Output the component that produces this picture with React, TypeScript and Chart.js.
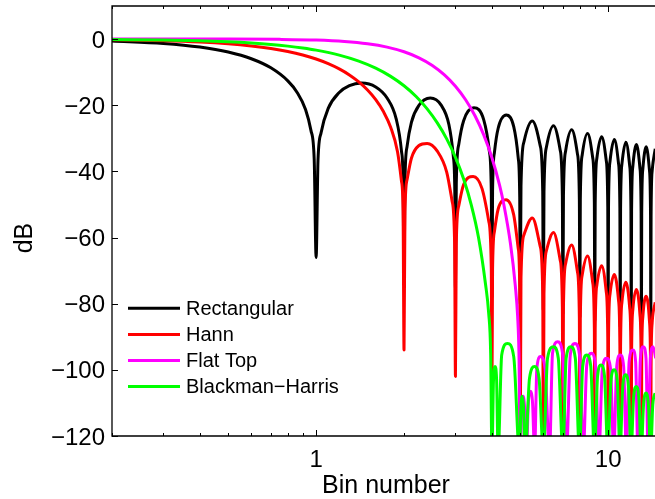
import { useEffect, useRef } from "react";
import { Chart, registerables } from "chart.js";

Chart.register(...registerables);

// Bin positions and levels (dB) for each window's spectrum.
const rectX = [
  0.2, 0.3, 0.4, 0.5, 0.6, 0.7, 0.8, 0.86, 0.92, 0.96, 0.985, 1,
  1.015, 1.04, 1.1, 1.2, 1.3, 1.43, 1.6, 1.75, 1.88, 1.96, 1.985, 2,
  2.015, 2.05, 2.12, 2.25, 2.46, 2.68, 2.85, 2.95, 2.985, 3,
  3.02, 3.08, 3.2, 3.47, 3.75, 3.92, 3.98, 4,
  4.02, 4.08, 4.2, 4.48, 4.75, 4.92, 4.98, 5,
  5.03, 5.15, 5.5, 5.85, 5.97, 6,
  6.03, 6.15, 6.5, 6.85, 6.97, 7,
  7.03, 7.15, 7.5, 7.85, 7.97, 8,
  8.03, 8.15, 8.5, 8.85, 8.97, 9,
  9.03, 9.15, 9.5, 9.85, 9.97, 10,
  10.03, 10.15, 10.5, 10.85, 10.97, 11,
  11.03, 11.15, 11.5, 11.85, 11.97, 12,
  12.03, 12.15, 12.5, 12.85, 12.97, 13,
  13.03, 13.15, 13.5, 13.85, 13.97, 14,
  14.03, 14.15, 14.5,
];
const rectY = [
  -0.58, -1.33, -2.42, -3.92, -5.94, -8.69, -12.62, -16.05, -21.3, -27.6, -36.35, -66,
  -36.6, -28.3, -20.97, -16.15, -14.06, -13.26, -14.46, -17.81, -24.11, -33.83, -42.44, -72,
  -42.57, -32.29, -25.15, -20.0, -17.83, -19.98, -25.9, -35.45, -45.98, -76,
  -43.58, -31.8, -24.67, -20.79, -24.43, -33.9, -45.98, -78,
  -46.07, -34.25, -27.03, -22.99, -26.49, -35.87, -47.93, -80,
  -44.5, -31.04, -24.75, -32.15, -45.99, -82,
  -46.08, -32.58, -26.2, -33.52, -47.34, -83,
  -47.41, -33.89, -27.44, -34.7, -48.5, -84,
  -48.57, -35.03, -28.53, -35.74, -49.53, -85,
  -49.59, -36.03, -29.5, -36.67, -50.45, -86,
  -50.5, -36.93, -30.37, -37.51, -51.28, -87,
  -51.33, -37.75, -31.16, -38.28, -52.04, -88,
  -52.08, -38.49, -31.88, -38.98, -52.73, -88,
  -52.77, -39.18, -32.55, -39.63, -53.38, -89,
  -53.41, -39.82, -33.17,
];

const hannX = [
  0.2, 0.3, 0.4, 0.5, 0.6, 0.7, 0.8, 0.9, 1.0, 1.1, 1.2, 1.3, 1.4, 1.5, 1.6, 1.7, 1.8, 1.9, 1.96, 1.985, 2,
  2.015, 2.05, 2.12, 2.25, 2.4, 2.6, 2.8, 2.92, 2.98, 3,
  3.02, 3.08, 3.2, 3.45, 3.7, 3.9, 3.98, 4,
  4.02, 4.08, 4.2, 4.47, 4.75, 4.92, 4.98, 5,
  5.03, 5.15, 5.5, 5.85, 5.97, 6,
  6.03, 6.15, 6.5, 6.85, 6.97, 7,
  7.03, 7.15, 7.5, 7.85, 7.97, 8,
  8.03, 8.15, 8.5, 8.85, 8.97, 9,
  9.03, 9.15, 9.5, 9.85, 9.97, 10,
  10.03, 10.15, 10.5, 10.85, 10.97, 11,
  11.03, 11.15, 11.5, 11.85, 11.97, 12,
  12.03, 12.15, 12.5, 12.85, 12.97, 13,
  13.03, 13.15, 13.5, 13.85, 13.97, 14,
  14.03, 14.15, 14.5,
];
const hannY = [
  -0.22, -0.51, -0.9, -1.42, -2.07, -2.84, -3.75, -4.8, -6.02, -7.42, -9.01, -10.84, -12.94, -15.4, -18.32, -21.92, -26.67, -34.05, -42.9, -51.8, -94,
  -52.29, -42.4, -36.02, -32.18, -31.54, -33.88, -40.21, -48.87, -61.4, -102,
  -61.77, -50.37, -43.98, -41.56, -45.22, -55.01, -69.41, -108,
  -69.68, -58.14, -51.45, -48.56, -53.16, -63.18, -75.46, -125,
  -72.21, -59.18, -54.07, -62.58, -76.78, -125,
  -77.05, -63.9, -58.51, -66.76, -80.89, -125,
  -81.11, -67.89, -62.29, -70.35, -84.42, -125,
  -84.62, -71.34, -65.59, -73.51, -87.53, -125,
  -87.71, -74.38, -68.51, -76.32, -90.31, -125,
  -90.47, -77.1, -71.14, -78.85, -92.82, -125,
  -92.96, -79.57, -73.52, -81.17, -95.1, -125,
  -95.23, -81.81, -75.7, -83.28, -97.2, -125,
  -97.32, -83.89, -77.72, -85.24, -99.14, -125,
  -99.25, -85.81, -79.58,
];

const flatX = [
  0.2, 0.5, 0.75, 1, 1.25, 1.5, 1.75, 2, 2.25, 2.5, 2.75, 3, 3.25, 3.5, 3.75, 4, 4.25, 4.4, 4.63, 4.81, 4.9, 4.95, 5.0,
  5.06, 5.12, 5.18, 5.25,
  5.33, 5.42, 5.51, 5.6,
  5.7, 5.87, 6.08, 6.3,
  6.45, 6.72, 6.98, 7.2,
  7.42, 7.7, 7.98, 8.22,
  8.45, 8.77, 9.05, 9.3,
  9.55, 9.88, 10.2, 10.45,
  10.7, 11.0, 11.3, 11.55,
  11.8, 12.15, 12.42, 12.65,
  12.9, 13.2, 13.48, 13.7,
  13.95, 14.25, 14.55,
];
const flatY = [
  0, -0.01, -0.09, -0.3, -0.72, -1.41, -2.43, -3.84, -5.67, -7.98, -10.82, -14.25, -18.34, -23.19, -28.96, -35.86, -44.26, -50.3, -61.9, -74.6, -84, -95, -125,
  -112, -108, -112, -125,
  -110, -106.5, -110, -125,
  -99.5, -96, -99.5, -125,
  -95, -91.5, -95, -125,
  -95.5, -92, -95.5, -125,
  -98.5, -95, -98.5, -125,
  -100, -96.5, -100, -125,
  -99, -95.5, -99, -125,
  -97.5, -94, -97.5, -125,
  -96.5, -93, -96.5, -125,
  -96.5, -93, -96.5,
];

const bhX = [
  0.2, 0.3, 0.4, 0.5, 0.6, 0.7, 0.8, 0.9, 1, 1.2, 1.4, 1.6, 1.8, 2, 2.2, 2.4, 2.6, 2.8, 3, 3.2, 3.4, 3.6, 3.8, 3.9, 3.96, 4.0,
  4.05, 4.1, 4.15, 4.2,
  4.32, 4.52, 4.75, 4.97,
  5.03, 5.08, 5.13, 5.2,
  5.38, 5.6, 5.8, 6.0,
  6.2, 6.5, 6.75, 7.0,
  7.18, 7.45, 7.72, 7.98,
  8.18, 8.45, 8.72, 8.98,
  9.2, 9.45, 9.72, 9.98,
  10.22, 10.48, 10.75, 10.98,
  11.22, 11.48, 11.74, 11.98,
  12.22, 12.48, 12.74, 12.98,
  13.22, 13.48, 13.74, 13.98,
  14.22, 14.48,
];
const bhY = [
  -0.13, -0.3, -0.53, -0.83, -1.19, -1.62, -2.13, -2.7, -3.34, -4.85, -6.66, -8.79, -11.27, -14.12, -17.37, -21.09, -25.32, -30.17, -35.76, -42.32, -50.17, -60.06, -73.9, -83, -95, -125,
  -103, -99, -103, -125,
  -95.5, -92, -96, -125,
  -111, -108, -111, -125,
  -102.5, -99, -102.5, -125,
  -96.5, -93, -96.5, -125,
  -96.5, -93, -96.5, -125,
  -99, -95.5, -99, -125,
  -102, -98.5, -102, -125,
  -103.5, -100, -103.5, -125,
  -105, -101.5, -105, -125,
  -108.5, -105, -108.5, -125,
  -110.5, -107, -110.5, -125,
  -110.5, -107,
];

const seriesNames = ["Rectangular", "Hann", "Flat Top", "Blackman\u2212Harris"];
const seriesColors = ["#000000", "#ff0000", "#ff00ff", "#00ff00"];
const yTickValues = [0, -20, -40, -60, -80, -100, -120];
const xMajorTicks = [1, 10];
const xMinorTicks = [0.2, 0.3, 0.4, 0.5, 0.6, 0.7, 0.8, 0.9, 2, 3, 4, 5, 6, 7, 8, 9];
const xAxisTitle = "Bin number";
const yAxisTitle = "dB";

const FONT = '"Liberation Sans", Arial, Helvetica, sans-serif';

function toPoints(xs: number[], ys: number[]) {
  const n = Math.min(xs.length, ys.length);
  const pts: { x: number; y: number }[] = [];
  for (let i = 0; i < n; i++) pts.push({ x: xs[i], y: ys[i] });
  return pts;
}

const fmtTick = (v: number) => (v < 0 ? "\u2212" + Math.abs(v) : String(v));

// Box, inward ticks, tick labels, axis titles and legend in the MATLAB style.
const axesPlugin = {
  id: "boxAxes",
  afterDatasetsDraw(chart: any) {
    const { ctx, chartArea: a } = chart;
    const xs = chart.scales.x;
    const ys = chart.scales.y;
    ctx.save();
    ctx.strokeStyle = "#000";
    ctx.lineWidth = 1.3;
    ctx.beginPath();
    ctx.moveTo(a.right + 2, a.top);
    ctx.lineTo(a.left, a.top);
    ctx.lineTo(a.left, a.bottom);
    ctx.lineTo(a.right + 2, a.bottom);
    ctx.stroke();

    ctx.lineWidth = 1;
    ctx.beginPath();
    for (const v of yTickValues) {
      const y = Math.round(ys.getPixelForValue(v)) + 0.5;
      ctx.moveTo(a.left, y);
      ctx.lineTo(a.left + 6, y);
    }
    for (const v of xMajorTicks) {
      const x = Math.round(xs.getPixelForValue(v)) + 0.5;
      ctx.moveTo(x, a.bottom);
      ctx.lineTo(x, a.bottom - 6);
      ctx.moveTo(x, a.top);
      ctx.lineTo(x, a.top + 6);
    }
    for (const v of xMinorTicks) {
      const x = Math.round(xs.getPixelForValue(v)) + 0.5;
      ctx.moveTo(x, a.bottom);
      ctx.lineTo(x, a.bottom - 3);
      ctx.moveTo(x, a.top);
      ctx.lineTo(x, a.top + 3);
    }
    ctx.stroke();

    ctx.fillStyle = "#000";
    ctx.font = "24px " + FONT;
    ctx.textAlign = "right";
    ctx.textBaseline = "alphabetic";
    for (const v of yTickValues) {
      const y = ys.getPixelForValue(v);
      ctx.fillText(fmtTick(v), 105, y + 8.5);
    }
    ctx.textAlign = "center";
    for (const v of xMajorTicks) {
      ctx.fillText(String(v), xs.getPixelForValue(v), 467);
    }

    ctx.font = "25px " + FONT;
    ctx.fillText(xAxisTitle, 386, 493);
    ctx.save();
    ctx.translate(32, 238);
    ctx.rotate(-Math.PI / 2);
    ctx.fillText(yAxisTitle, 0, 0);
    ctx.restore();

    // legend
    ctx.font = "20px " + FONT;
    ctx.textAlign = "left";
    ctx.textBaseline = "middle";
    ctx.lineWidth = 3;
    seriesNames.forEach((name, i) => {
      const y = 308.3 + i * 26.1;
      ctx.strokeStyle = seriesColors[i];
      ctx.beginPath();
      ctx.moveTo(128, y);
      ctx.lineTo(180, y);
      ctx.stroke();
      ctx.fillStyle = "#000";
      ctx.fillText(name, 186, y + 1);
    });
    ctx.restore();
  },
};

export default function App() {
  const canvasRef = useRef<HTMLCanvasElement | null>(null);

  useEffect(() => {
    const canvas = canvasRef.current;
    if (!canvas) return;
    const sets = [
      [rectX, rectY],
      [hannX, hannY],
      [flatX, flatY],
      [bhX, bhY],
    ];
    const chart = new Chart(canvas, {
      type: "line",
      data: {
        datasets: sets.map(([xs, ys], i) => ({
          label: seriesNames[i],
          data: toPoints(xs, ys),
          borderColor: seriesColors[i],
          backgroundColor: seriesColors[i],
          borderWidth: 3,
          pointRadius: 0,
          fill: false,
          cubicInterpolationMode: "monotone" as const,
          borderJoinStyle: "round" as const,
          clip: 0,
          order: 3 - i,
        })),
      },
      options: {
        animation: false,
        responsive: false,
        devicePixelRatio: 1,
        layout: { padding: { left: 112, top: 6, right: 0, bottom: 63 } },
        scales: {
          x: { type: "logarithmic", min: 0.2, max: 14.47, display: false },
          y: { type: "linear", min: -120, max: 10, display: false },
        },
        plugins: { legend: { display: false }, tooltip: { enabled: false } },
        events: [],
      },
      plugins: [axesPlugin],
    });
    return () => chart.destroy();
  }, []);

  return (
    <div style={{ position: "fixed", left: 0, top: 0, width: 655, height: 499, background: "#fff" }}>
      <canvas ref={canvasRef} width={655} height={499} style={{ width: 655, height: 499, display: "block" }} />
    </div>
  );
}
